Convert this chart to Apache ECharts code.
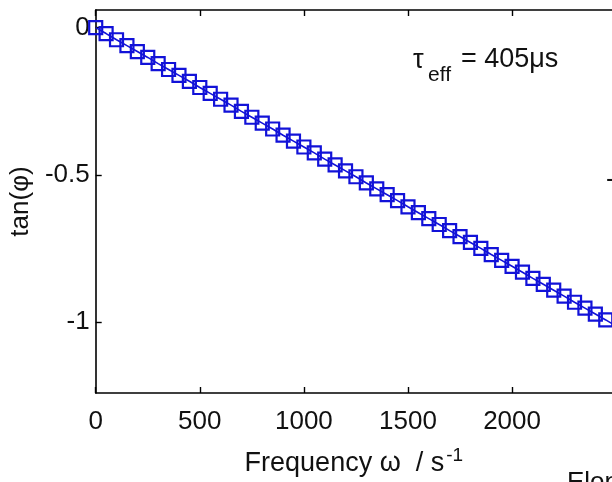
<!DOCTYPE html>
<html>
<head>
<meta charset="utf-8">
<script src="https://cdn.jsdelivr.net/npm/echarts@6/dist/echarts.min.js"></script>
<style>html,body{margin:0;padding:0;background:#fff;}#c{width:612px;height:482px;}</style>
</head>
<body>
<div id="c"></div>
<script>
// Frequency omega (s^-1)
var freq = [0,50,100,150,200,250,300,350,400,450,500,550,600,650,700,750,800,850,900,950,
  1000,1050,1100,1150,1200,1250,1300,1350,1400,1450,1500,1550,1600,1650,1700,1750,1800,1850,1900,1950,
  2000,2050,2100,2150,2200,2250,2300,2350,2400,2450,2500];
// tan(phi)
var tanPhi = [0,-0.020,-0.041,-0.061,-0.081,-0.101,-0.122,-0.142,-0.162,-0.182,-0.203,-0.223,-0.243,-0.263,-0.284,-0.304,-0.324,-0.344,-0.365,-0.385,
  -0.405,-0.425,-0.446,-0.466,-0.486,-0.506,-0.527,-0.547,-0.567,-0.587,-0.608,-0.628,-0.648,-0.668,-0.689,-0.709,-0.729,-0.749,-0.770,-0.790,
  -0.810,-0.830,-0.851,-0.871,-0.891,-0.911,-0.932,-0.952,-0.972,-0.992,-1.013];
var xTicks = [0,500,1000,1500,2000];
var yTicks = [-1,-0.5,0];

var FONT = 'Liberation Sans, Arial, Helvetica, sans-serif';
var points = freq.map(function(f,i){return [f, tanPhi[i]];});
var chart = echarts.init(document.getElementById('c'), null, {renderer:'canvas'});
var axisLine = {show:true, onZero:false, lineStyle:{color:'#000', width:1.6}};
var BLUE = '#1212d8';
chart.setOption({
  animation:false,
  backgroundColor:'#fff',
  grid:{left:95, top:10, width:521, height:393, containLabel:false},
  xAxis:[{
    type:'value', min:0, max:2480, position:'bottom',
    axisLine:axisLine,
    axisTick:{show:true, inside:true, length:6, customValues:xTicks, lineStyle:{color:'#000', width:1.4}},
    axisLabel:{show:true, customValues:xTicks, fontSize:26, color:'#111', fontFamily:FONT, margin:16,
      formatter:function(v){return String(v);}},
    splitLine:{show:false},
    name:'{a|Frequency ω  / s}{b|-1}', nameLocation:'middle', nameGap:53,
    nameTextStyle:{color:'#111', fontFamily:FONT, rich:{a:{fontSize:27, fontFamily:FONT, color:'#111'}, b:{fontSize:19, fontFamily:FONT, color:'#111', padding:[0,0,16,2]}}}
  },{
    type:'value', min:0, max:2480, position:'top',
    axisLine:axisLine,
    axisTick:{show:true, inside:true, length:6, customValues:xTicks, lineStyle:{color:'#000', width:1.4}},
    axisLabel:{show:false}, splitLine:{show:false}
  }],
  yAxis:[{
    type:'value', min:-1.24, max:0.06,
    axisLine:axisLine,
    axisTick:{show:true, inside:true, length:6, customValues:yTicks, lineStyle:{color:'#000', width:1.4}},
    axisLabel:{show:true, customValues:yTicks, fontSize:26, color:'#111', fontFamily:FONT, margin:6,
      formatter:function(v){return String(v);}},
    splitLine:{show:false},
    name:'tan(φ)', nameLocation:'middle', nameGap:53,
    nameTextStyle:{fontSize:26, color:'#111', fontFamily:FONT}
  }],
  series:[{
    type:'line', xAxisIndex:0, yAxisIndex:0, data:points,
    symbol:'rect', symbolSize:13, showSymbol:true,
    lineStyle:{color:BLUE, width:1.6},
    itemStyle:{color:'rgba(255,255,255,0)', borderColor:BLUE, borderWidth:2.2},
    clip:true
  }],
  graphic:[
    {type:'text', left:413, top:47, style:{text:'τ', font:'27px '+FONT, fill:'#111'}},
    {type:'text', left:428, top:65, style:{text:'eff', font:'21px '+FONT, fill:'#111'}},
    {type:'text', left:461, top:46, style:{text:'= 405μs', font:'27px '+FONT, fill:'#111'}},
    {type:'text', left:567, top:470, style:{text:'Elongation', font:'26px '+FONT, fill:'#111'}},
    {type:'text', left:606, top:167, style:{text:'-0.5', font:'26px '+FONT, fill:'#111'}}
  ]
});
</script>
</body>
</html>
